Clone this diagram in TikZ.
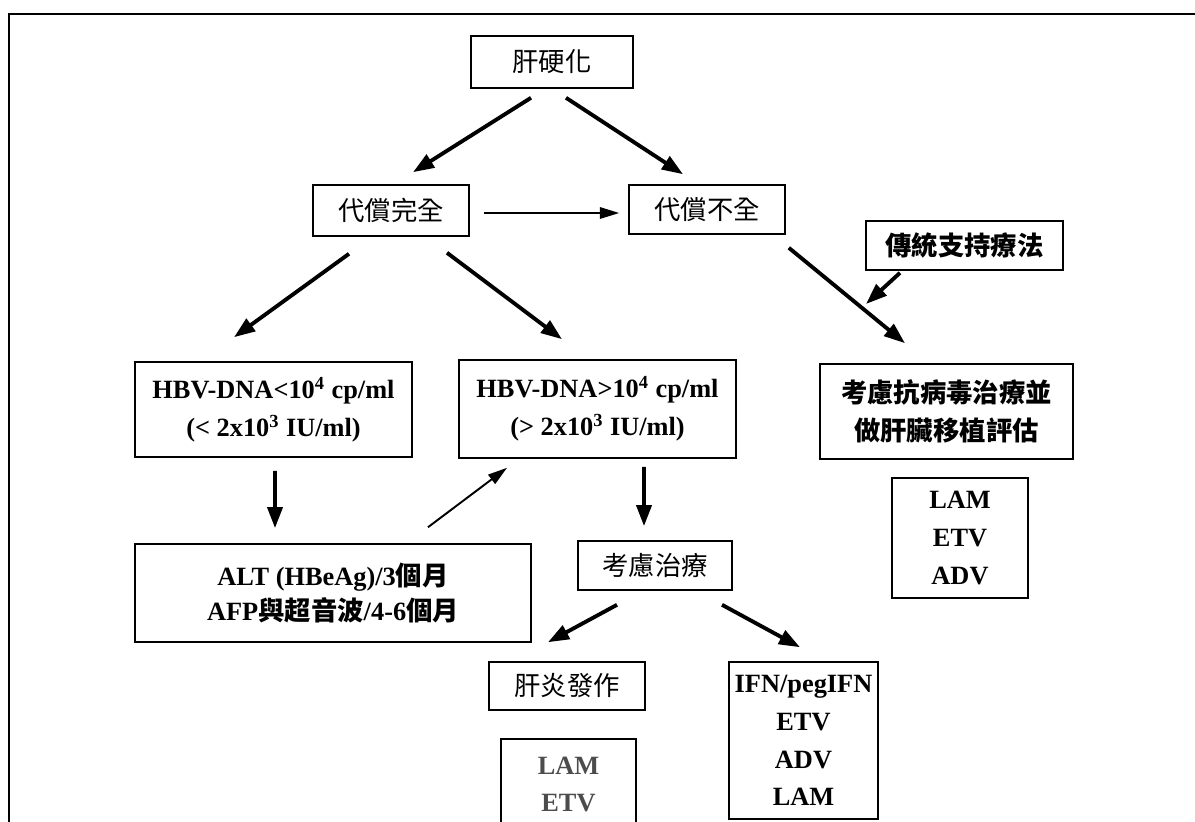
\documentclass[tikz,border=0pt]{standalone}
\usepackage{fontspec}
\setmainfont{Liberation Serif}
\newfontfamily\cjk{Noto Sans CJK TC}
\usetikzlibrary{arrows.meta}
\newcommand\boxfont{\fontsize{15}{21.5}\selectfont\bfseries}

\begin{document}
\begin{tikzpicture}[x=0.02cm, y=-0.02cm,
    box/.style={draw, line width=0.9pt, inner sep=0pt, align=center, font=\boxfont},
    wh/.style 2 args={minimum width=#1*0.02cm, minimum height=#2*0.02cm},
    bigarr/.style={-{Triangle[length=12pt,width=8.5pt]}, line width=2.2pt},
    thinarr/.style={-{Triangle[length=11pt,width=6.5pt]}, line width=1.1pt}]
    \useasboundingbox (0,0) rectangle (1195,821);
    \draw[line width=1.3pt] (9,14) rectangle (1210,840);
    \node[box, wh={162}{52}] (cirr) at (552,62) {\cjk\mdseries 肝硬化};
    \node[box, wh={156}{51}] (comp) at (391,210.5) {\cjk\mdseries 代償完全};
    \node[box, wh={156}{49}] (decomp) at (707,209.5) {\cjk\mdseries 代償不全};
    \node[box, wh={197}{49}] (supp) at (964.5,245.5) {\cjk 傳統支持療法};
    \node[box, wh={277}{95}] (low) at (273.5,409.5) {HBV-DNA<10\textsuperscript{4} cp/ml\\(< 2x10\textsuperscript{3} IU/ml)};
    \node[box, wh={277}{98}] (high) at (597.5,409) {HBV-DNA>10\textsuperscript{4} cp/ml\\(> 2x10\textsuperscript{3} IU/ml)};
    \node[box, wh={253}{95}] (antiv) at (946.5,411.5) {\cjk 考慮抗病毒治療並\\\cjk 做肝臟移植評估};
    \node[box, wh={136}{120}] (rdrug) at (960,538) {LAM\\ETV\\ADV};
    \node[box, wh={396}{98}] (monitor) at (333,593) {ALT (HBeAg)/3{\cjk 個月}\\[-2pt]AFP{\cjk 與超音波}/4-6{\cjk 個月}};
    \node[box, wh={154}{49}] (treat) at (655,565.5) {\cjk\mdseries 考慮治療};
    \node[box, wh={156}{48}] (flare) at (567,686) {\cjk\mdseries 肝炎發作};
    \node[box, wh={135}{91}, text=black!70] (ldrug) at (568.5,784.5) {LAM\\ETV};
    \node[box, wh={149}{157}] (ifn) at (803.5,740.5) {IFN/pegIFN\\ETV\\ADV\\LAM};
    \coordinate (join) at (866,304);
    \draw[bigarr] ([shift={(-21,9)}]cirr.south) -- ([shift={(22,-12)}]comp.north);
    \draw[bigarr] ([shift={(14,9)}]cirr.south) -- ([shift={(-24,-10)}]decomp.north);
    \draw[thinarr] ([shift={(14,2.5)}]comp.east) -- ([shift={(-9,3.5)}]decomp.west);
    \draw[bigarr] ([shift={(-42,17)}]comp.south) -- ([shift={(-39.5,-24)}]low.north);
    \draw[bigarr] ([shift={(56,16)}]comp.south) -- ([shift={(-35.5,-20)}]high.north);
    \draw[bigarr] ([shift={(3,13)}]decomp.south east) -- ([shift={(-41.5,-20)}]antiv.north);
    \draw[bigarr] ([shift={(-64.5,2)}]supp.south) -- (join);
    \draw[bigarr] ([shift={(1.5,13)}]low.south) -- ([shift={(-58,-15)}]monitor.north);
    \draw[thinarr] ([shift={(95,-16)}]monitor.north) -- ([shift={(-90.5,9)}]high.south);
    \draw[bigarr] ([shift={(46.5,8)}]high.south) -- ([shift={(-11,-14)}]treat.north);
    \draw[bigarr] ([shift={(-38,14)}]treat.south) -- ([shift={(-19,-19)}]flare.north);
    \draw[bigarr] ([shift={(67,14)}]treat.south) -- ([shift={(-3.5,-14)}]ifn.north);
\end{tikzpicture}
\end{document}
